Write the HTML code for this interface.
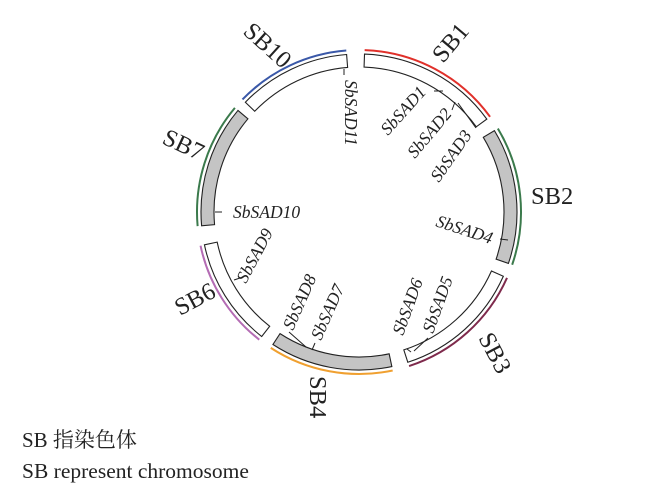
<!DOCTYPE html>
<html><head><meta charset="utf-8">
<style>
html,body{margin:0;padding:0;background:#fff;width:660px;height:490px;overflow:hidden}
svg{display:block}
.sb{font-family:"Liberation Serif","Noto Serif CJK SC",serif;font-size:24.5px;fill:#222}
.g{font-family:"Liberation Serif",serif;font-style:italic;font-size:17.5px;fill:#222}
.cap{font-family:"Liberation Serif","Noto Serif CJK SC",serif;font-size:21.5px;fill:#222}
</style></head><body>
<svg id="s" width="660" height="490" viewBox="0 0 660 490" xmlns="http://www.w3.org/2000/svg">
<g id="arcs"></g>
<text class="sb" transform="translate(242,33) rotate(42)">SB10</text>
<text class="sb" transform="translate(443,64) rotate(-50)">SB1</text>
<text class="sb" x="531" y="204">SB2</text>
<text class="sb" transform="translate(478,338) rotate(62)">SB3</text>
<text class="sb" transform="translate(310,376) rotate(90)">SB4</text>
<text class="sb" transform="translate(180,316) rotate(-28)">SB6</text>
<text class="sb" transform="translate(161,143) rotate(25)">SB7</text>

<line x1="344" y1="69" x2="344" y2="75" stroke="#222" stroke-width="1"/>
<text class="g" transform="translate(345,80) rotate(90)">SbSAD11</text>

<line x1="434" y1="91" x2="443" y2="91" stroke="#222"/>
<text class="g" transform="translate(388,136) rotate(-48)">SbSAD1</text>
<line x1="452" y1="110" x2="455" y2="102" stroke="#222"/>
<text class="g" transform="translate(415,159) rotate(-50)">SbSAD2</text>
<line x1="458" y1="103" x2="476" y2="128" stroke="#222"/>
<text class="g" transform="translate(439,183) rotate(-55)">SbSAD3</text>

<line x1="215" y1="212" x2="222" y2="212" stroke="#222"/>
<text class="g" x="233" y="218">SbSAD10</text>

<text class="g" transform="translate(435,226) rotate(18)">SbSAD4</text>
<line x1="500" y1="239" x2="508" y2="240" stroke="#222"/>

<line x1="234" y1="280" x2="240" y2="278" stroke="#222"/>
<text class="g" transform="translate(246,284) rotate(-62)">SbSAD9</text>

<text class="g" transform="translate(293,331) rotate(-66)">SbSAD8</text>
<line x1="289" y1="332" x2="306" y2="347" stroke="#222"/>
<text class="g" transform="translate(321,341) rotate(-66)">SbSAD7</text>
<line x1="315" y1="343" x2="312" y2="350" stroke="#222"/>

<text class="g" transform="translate(403,336) rotate(-70)">SbSAD6</text>
<line x1="407" y1="349" x2="411" y2="352" stroke="#222"/>
<text class="g" transform="translate(433,334) rotate(-70)">SbSAD5</text>
<line x1="414" y1="351" x2="428" y2="338" stroke="#222"/>

<text class="cap" x="22" y="447" style="font-size:21px">SB 指染色体</text>
<text class="cap" x="22" y="478">SB represent chromosome</text>
</svg>
<script>
(function(){
var cx=359,cy=212,ri=145,ro=158,rc=162;
function p(r,a){var t=a*Math.PI/180;return [cx+r*Math.sin(t),cy-r*Math.cos(t)];}
function arcPath(r,a0,a1){var s=p(r,a0),e=p(r,a1);var l=(a1-a0)>180?1:0;
 return "M"+s[0].toFixed(2)+","+s[1].toFixed(2)+" A"+r+","+r+" 0 "+l+" 1 "+e[0].toFixed(2)+","+e[1].toFixed(2);}
function box(a0,a1){var a=p(ro,a0),b=p(ro,a1),c=p(ri,a1),d=p(ri,a0);var l=(a1-a0)>180?1:0;
 return "M"+a[0]+","+a[1]+" A"+ro+","+ro+" 0 "+l+" 1 "+b[0]+","+b[1]+" L"+c[0]+","+c[1]+" A"+ri+","+ri+" 0 "+l+" 0 "+d[0]+","+d[1]+" Z";}
var segs=[[2,54,"#fff","#e0302a"],[59,109,"#c4c4c4","#3b7a4c"],[114,162,"#fff","#7e2a4c"],
 [168,213,"#c4c4c4","#f0a030"],[218,258,"#fff","#b46cb4"],[265,310,"#c4c4c4","#3b7a4c"],[314,355.5,"#fff","#3a58a8"]];
var g=document.getElementById("arcs"),h="";
segs.forEach(function(s){
 h+='<path d="'+box(s[0],s[1])+'" fill="'+s[2]+'" stroke="#222" stroke-width="1.1"/>';
 h+='<path d="'+arcPath(rc,s[0],s[1])+'" fill="none" stroke="'+s[3]+'" stroke-width="2"/>';
});
g.innerHTML=h;
})();
</script>
</body></html>
